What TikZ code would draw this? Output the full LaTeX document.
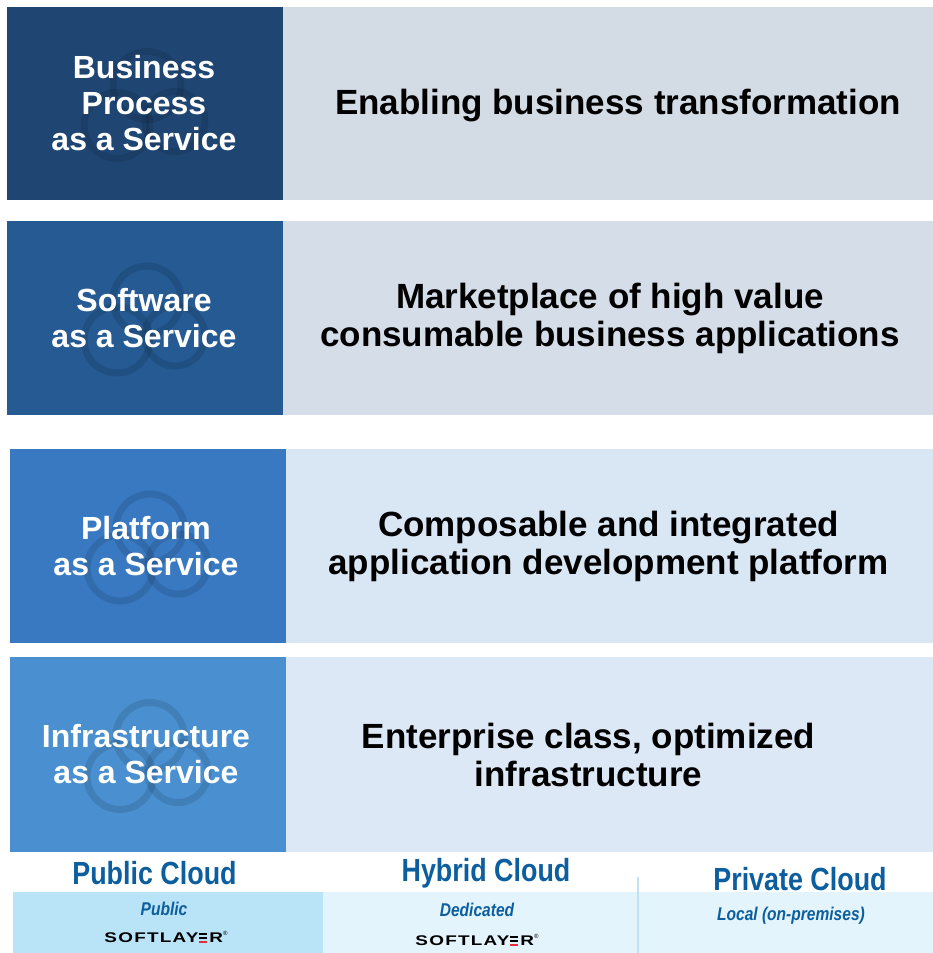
\documentclass[tikz,border=0pt]{standalone}
\usepackage{fontspec}
\setmainfont{Liberation Sans}
\newfontfamily\narrowfont[FakeStretch=0.84]{Liberation Sans}
\newfontfamily\slfont[FakeStretch=1.35,LetterSpace=9]{Liberation Sans}
\definecolor{lA}{HTML}{1F4673}
\definecolor{lB}{HTML}{255A93}
\definecolor{lC}{HTML}{3979C1}
\definecolor{lD}{HTML}{4A8FD0}
\definecolor{rA}{HTML}{D3DBE4}
\definecolor{rB}{HTML}{D5DDE8}
\definecolor{rC}{HTML}{D9E6F3}
\definecolor{rD}{HTML}{DCE8F5}
\definecolor{pubfill}{HTML}{B9E3F7}
\definecolor{hybfill}{HTML}{E3F4FC}
\definecolor{sepline}{HTML}{BFE3F5}
\definecolor{cloudblue}{HTML}{0C5E9E}
\definecolor{slred}{HTML}{E0303A}
\newcommand\slE{\kern0.04em\rlap{\raisebox{0.58em}{\rule{0.6em}{0.14em}}}\rlap{\raisebox{0.29em}{\rule{0.6em}{0.14em}}}{\color{slred}\rule{0.6em}{0.14em}}\kern0.14em}
\newcommand\slogo{{\slfont\bfseries SOFTLAY}\slE{\slfont\bfseries R}\raisebox{0.55em}{\fontsize{6}{6}\selectfont ®}}
\tikzset{
  box/.style={anchor=north west, inner sep=0pt, outer sep=0pt, draw=none},
  lefttext/.style={text=white, font=\bfseries\fontsize{32}{36}\selectfont, align=center, inner sep=0pt},
  righttext/.style={text=black, font=\bfseries\fontsize{35}{38}\selectfont, align=center, inner sep=0pt},
  cloudhead/.style={text=cloudblue, font=\narrowfont\bfseries\fontsize{32}{33}\selectfont, inner sep=0pt},
  cloudsub/.style={text=cloudblue, font=\narrowfont\bfseries\itshape\fontsize{18.5}{20}\selectfont, inner sep=0pt},
  logo/.style={text=black, font=\fontsize{14}{15}\selectfont, inner sep=0pt},
  cloudmark/.pic={
    \begin{scope}[draw=black, opacity=0.11, line width=7pt]
      \draw (2,-18) circle[radius=34pt];
      \draw (-28,22) circle[radius=33pt];
      \draw (30,18) circle[radius=30pt];
    \end{scope}
  }
}
\begin{document}
\begin{tikzpicture}[x=1pt,y=-1pt]
\useasboundingbox (0,0) rectangle (933,953);
\fill[white] (0,0) rectangle (933,953);
% row 1
\node[box, fill=lA, minimum width=276pt, minimum height=193pt] (l1) at (7,7) {};
\node[box, fill=rA, minimum width=650pt, minimum height=193pt] (r1) at (283,7) {};
% row 2
\node[box, fill=lB, minimum width=276pt, minimum height=194pt] (l2) at (7,221) {};
\node[box, fill=rB, minimum width=650pt, minimum height=194pt] (r2) at (283,221) {};
% row 3
\node[box, fill=lC, minimum width=276pt, minimum height=194pt] (l3) at (10,449) {};
\node[box, fill=rC, minimum width=647pt, minimum height=194pt] (r3) at (286,449) {};
% row 4
\node[box, fill=lD, minimum width=276pt, minimum height=195pt] (l4) at (10,657) {};
\node[box, fill=rD, minimum width=647pt, minimum height=195pt] (r4) at (286,657) {};
% watermarks
\pic at (l1.center) {cloudmark};
\pic at (l2.center) {cloudmark};
\pic at (l3.center) {cloudmark};
\pic at (l4.center) {cloudmark};
% left texts
\node[lefttext] (t1) at ([xshift=-1pt]l1.center) {Business\\Process\\as a Service};
\node[lefttext] (t2) at ([xshift=-1pt]l2.center) {Software\\as a Service};
\node[lefttext] (t3) at ([xshift=-2pt]l3.center) {Platform\\as a Service};
\node[lefttext] (t4) at ([xshift=-2pt]l4.center) {Infrastructure\\as a Service};
% right texts
\node[righttext] (d1) at ([xshift=10pt,yshift=-2pt]r1.center) {Enabling business transformation};
\node[righttext] (d2) at ([xshift=2pt]r2.center) {Marketplace of high value\\consumable business applications};
\node[righttext] (d3) at ([xshift=-1pt]r3.center) {Composable and integrated\\application development platform};
\node[righttext] (d4) at ([xshift=-21pt]r4.center) {Enterprise class, optimized\\infrastructure};
% bottom band
\node[box, fill=pubfill, minimum width=310pt, minimum height=61pt] (pub) at (13,892) {};
\node[box, fill=hybfill, minimum width=610pt, minimum height=61pt] (hyb) at (323,892) {};
\coordinate (sepTop) at (638,877);
\coordinate (sepBot) at (638,953);
\draw[sepline, line width=1.5pt] (sepTop) -- (sepBot);
\node[cloudhead] (h1) at (154.5,873.5) {Public Cloud};
\node[cloudhead] (h2) at (486,873) {Hybrid Cloud};
\node[cloudhead] (h3) at (800,879) {Private Cloud};
\node[cloudsub] (s1) at (164,909) {Public};
\node[cloudsub] (s2) at (477,910) {Dedicated};
\node[cloudsub] (s3) at (791,916) {Local (on-premises)};
\node[logo] (g1) at (166,937) {\slogo};
\node[logo] (g2) at (477,940) {\slogo};
\end{tikzpicture}
\end{document}
